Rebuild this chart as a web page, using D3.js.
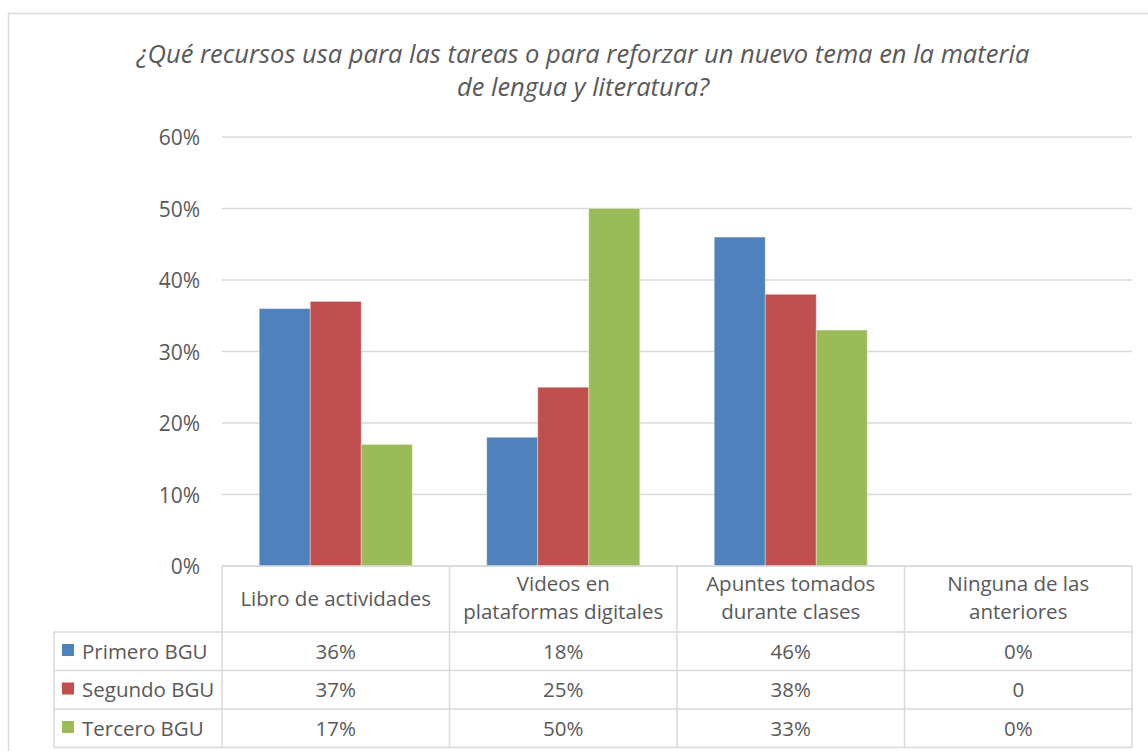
<!DOCTYPE html>
<html>
<head>
<meta charset="utf-8">
<script src="https://cdn.jsdelivr.net/npm/d3@7"></script>
<style>
  body { margin: 0; background: #fff; }
  text { font-family: "Open Sans", sans-serif; fill: #595959; }
</style>
</head>
<body>
<div id="chart"></div>
<script>
// data
var categories = [["Libro de actividades"], ["Videos en", "plataformas digitales"],
    ["Apuntes tomados", "durante clases"], ["Ninguna de las", "anteriores"]];
var seriesNames = ["Primero BGU", "Segundo BGU", "Tercero BGU"];
var primero = [36, 18, 46, 0];
var segundo = [37, 25, 38, 0];
var tercero = [17, 50, 33, 0];
var tableLabels = [["36%", "18%", "46%", "0%"], ["37%", "25%", "38%", "0"], ["17%", "50%", "33%", "0%"]];
var yTicks = [0, 10, 20, 30, 40, 50, 60];
var colors = ["#4F81BD", "#C0504D", "#9BBB59"];
var titleLines = ["¿Qué recursos usa para las tareas o para reforzar un nuevo tema en la materia",
    "de lengua y literatura?"];

var width = 1148, height = 751;
var fontSize = 20.5;
var svg = d3.select("#chart").append("svg")
    .attr("width", width)
    .attr("height", height);

// outer chart border
svg.append("rect")
    .attr("x", 8.5).attr("y", 13.5)
    .attr("width", 1160).attr("height", 760)
    .attr("fill", "none").attr("stroke", "#d9d9d9").attr("stroke-width", 1.5);

// title
svg.selectAll(".title")
    .data(titleLines)
    .enter()
    .append("text")
    .attr("x", 583)
    .attr("y", (d, i) => 63 + i * 33)
    .attr("text-anchor", "middle")
    .attr("font-style", "italic")
    .attr("font-size", 25.5)
    .text(d => d);

var plotL = 222, plotR = 1132, plotT = 137, plotB = 566;
var yScale = d3.scaleLinear().domain([0, 60]).range([plotB, plotT]);
var x0 = d3.scaleBand().domain(d3.range(categories.length)).range([plotL, plotR]);
var x1 = d3.scaleBand().domain(d3.range(seriesNames.length))
    .range([0, x0.bandwidth()]).paddingInner(0).paddingOuter(0.73);

// gridlines
svg.selectAll(".grid")
    .data(yTicks)
    .enter()
    .append("line")
    .attr("x1", plotL).attr("x2", plotR)
    .attr("y1", d => yScale(d)).attr("y2", d => yScale(d))
    .attr("stroke", "#d9d9d9").attr("stroke-width", 1.5);

// y axis labels
var yAxis = d3.axisLeft(yScale).tickValues(yTicks).tickSize(0).tickPadding(0)
    .tickFormat(d => d + "%");
var yg = svg.append("g")
    .attr("transform", "translate(" + 200 + ",0)")
    .call(yAxis);
yg.select(".domain").remove();
yg.selectAll("text").attr("font-size", 21).style("font-family", "'Open Sans', sans-serif")
    .attr("fill", "#595959").attr("dy", "0.36em");

// bars
var allSeries = [primero, segundo, tercero];
var gData = [];
allSeries.forEach((vals, s) => {
    vals.forEach((v, c) => gData.push({ s: s, c: c, v: v }));
});
svg.selectAll(".bar")
    .data(gData)
    .enter()
    .append("rect")
    .attr("x", d => x0(d.c) + x1(d.s))
    .attr("y", d => yScale(d.v))
    .attr("width", x1.bandwidth())
    .attr("height", d => yScale(0) - yScale(d.v))
    .attr("fill", d => colors[d.s])
    .attr("stroke", "rgba(255,255,255,0.35)")
    .attr("stroke-width", 1);

// data table
var headB = 632, rowH = 38.5, legL = 54;
var tg = svg.append("g");
var lineColor = "#d9d9d9";
// horizontal lines
tg.append("line").attr("x1", plotL).attr("x2", plotR).attr("y1", plotB).attr("y2", plotB)
    .attr("stroke", lineColor).attr("stroke-width", 1.5);
for (let r = 0; r <= 3; ++r) {
    tg.append("line")
        .attr("x1", legL).attr("x2", plotR)
        .attr("y1", headB + r * rowH).attr("y2", headB + r * rowH)
        .attr("stroke", lineColor).attr("stroke-width", 1.5);
}
// vertical lines
tg.append("line").attr("x1", legL).attr("x2", legL).attr("y1", headB).attr("y2", headB + 3 * rowH)
    .attr("stroke", lineColor).attr("stroke-width", 1.5);
for (let c = 0; c <= categories.length; ++c) {
    let xx = c < categories.length ? x0(c) : plotR;
    tg.append("line")
        .attr("x1", xx).attr("x2", xx)
        .attr("y1", plotB).attr("y2", headB + 3 * rowH)
        .attr("stroke", lineColor).attr("stroke-width", 1.5);
}
// header text
categories.forEach((lines, c) => {
    let cx = x0(c) + x0.bandwidth() / 2;
    let y0 = lines.length == 1 ? 606 : 591;
    lines.forEach((t, i) => {
        tg.append("text")
            .attr("x", cx).attr("y", y0 + i * 28)
            .attr("text-anchor", "middle")
            .attr("font-size", fontSize)
            .text(t);
    });
});
// rows
seriesNames.forEach((name, s) => {
    let top = headB + s * rowH;
    tg.append("rect")
        .attr("x", 62).attr("y", top + 12)
        .attr("width", 12).attr("height", 12)
        .attr("fill", colors[s]);
    tg.append("text")
        .attr("x", 82).attr("y", top + 26.5)
        .attr("font-size", fontSize)
        .text(name);
    tableLabels[s].forEach((t, c) => {
        tg.append("text")
            .attr("x", x0(c) + x0.bandwidth() / 2)
            .attr("y", top + 26.5)
            .attr("text-anchor", "middle")
            .attr("font-size", fontSize)
            .text(t);
    });
});
</script>
</body>
</html>
